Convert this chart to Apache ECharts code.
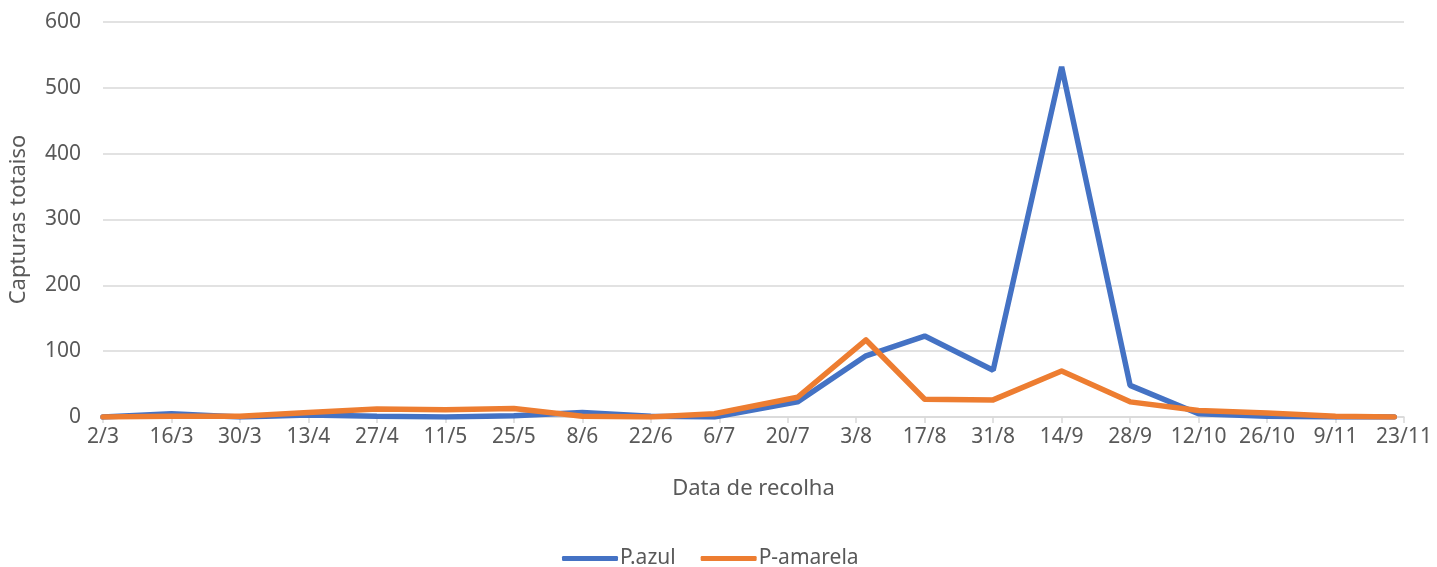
<!DOCTYPE html>
<html>
<head>
<meta charset="utf-8">
<script src="https://cdn.jsdelivr.net/npm/echarts@6/dist/echarts.min.js"></script>
<style>
html,body{margin:0;padding:0;background:#fff;}
#chart{width:1437px;height:567px;}
</style>
</head>
<body>
<div id="chart"></div>
<script>
// Sampling dates (ISO, year arbitrary non-leap)
const sampleDates = ['2019-03-02','2019-03-16','2019-03-30','2019-04-13','2019-04-27','2019-05-11','2019-05-25','2019-06-08','2019-06-22','2019-07-05','2019-07-22','2019-08-05','2019-08-17','2019-08-31','2019-09-14','2019-09-28','2019-10-12','2019-10-26','2019-11-09','2019-11-21'];
const pAzul     = [0, 5, 0, 3, 1, 0, 2, 7, 1, 0, 23, 93, 123, 71, 532, 48, 5, 1, 0, 0];
const pAmarela  = [0, 1, 1, 7, 12, 11, 13, 1, 0, 5, 30, 117, 27, 26, 70, 23, 10, 6, 1, 0];
const tickLabels = ['2/3','16/3','30/3','13/4','27/4','11/5','25/5','8/6','22/6','6/7','20/7','3/8','17/8','31/8','14/9','28/9','12/10','26/10','9/11','23/11'];
const yTicks = [0, 100, 200, 300, 400, 500, 600];

const base = Date.UTC(2019, 2, 2);
const dayOf = s => { const [y,m,d] = s.split('-').map(Number); return Math.round((Date.UTC(y,m-1,d) - base) / 86400000); };
const days = sampleDates.map(dayOf);
const step = 14;

const txt = '#595959';
const font = 'Noto Sans';
const chart = echarts.init(document.getElementById('chart'));
chart.setOption({
  animation: false,
  textStyle: { fontFamily: font, color: txt },
  grid: { left: 101, right: 33, top: 22, bottom: 150 },
  xAxis: {
    type: 'value',
    min: 0,
    max: step * (tickLabels.length - 1),
    interval: step,
    name: 'Data de recolha',
    nameLocation: 'middle',
    nameGap: 61,
    nameTextStyle: { fontSize: 22, color: txt, fontFamily: font },
    axisLine: { show: true, lineStyle: { color: '#d9d9d9', width: 1.5 } },
    axisTick: { show: true, length: 6, lineStyle: { color: '#d9d9d9', width: 1.5 } },
    splitLine: { show: false },
    axisLabel: { fontSize: 21, color: txt, margin: 10, fontFamily: font,
      formatter: v => tickLabels[Math.round(v / step)] || '' }
  },
  yAxis: {
    type: 'value',
    min: yTicks[0],
    max: yTicks[yTicks.length - 1],
    interval: 100,
    name: 'Capturas totaiso',
    nameLocation: 'middle',
    nameGap: 73,
    nameTextStyle: { fontSize: 22, color: txt, fontFamily: font },
    axisLine: { show: false },
    axisTick: { show: false },
    splitLine: { lineStyle: { color: '#d9d9d9', width: 1.5 } },
    axisLabel: { fontSize: 21, color: txt, margin: 22, fontFamily: font }
  },
  legend: {
    left: 557,
    top: 543,
    icon: 'roundRect',
    itemWidth: 56,
    itemHeight: 5,
    itemGap: 25,
    textStyle: { fontSize: 21, color: txt, fontFamily: font, padding: [0,0,0,-3] },
    data: ['P.azul', 'P-amarela']
  },
  series: [
    { name: 'P.azul', type: 'line', symbol: 'none', color: '#4472C4',
      lineStyle: { width: 5.5, color: '#4472C4', cap: 'round' },
      data: days.map((d, i) => [d, pAzul[i]]) },
    { name: 'P-amarela', type: 'line', symbol: 'none', color: '#ED7D31',
      lineStyle: { width: 5.5, color: '#ED7D31', cap: 'round', join: 'round' },
      data: days.map((d, i) => [d, pAmarela[i]]) }
  ]
});
</script>
</body>
</html>
